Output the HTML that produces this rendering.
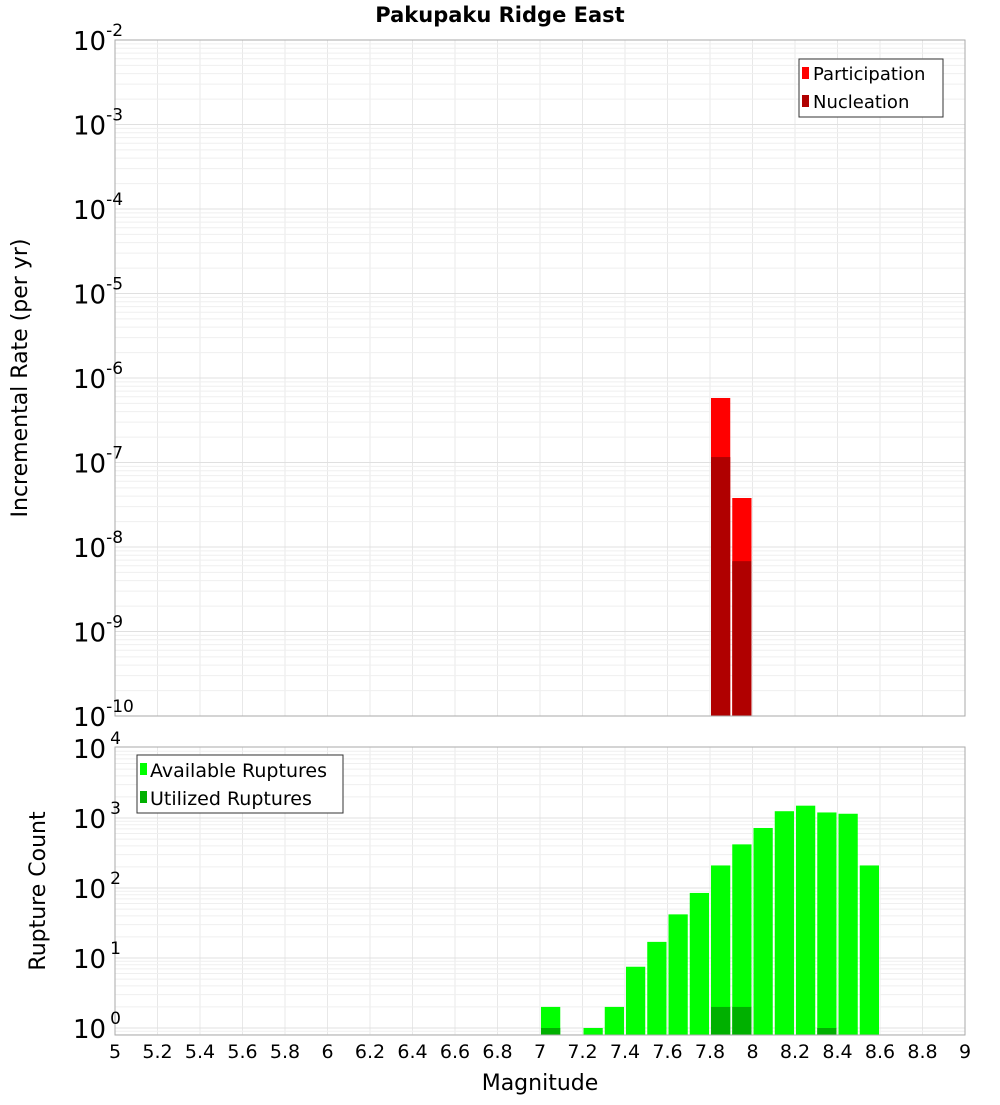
<!DOCTYPE html>
<html><head><meta charset="utf-8"><style>
body{margin:0;background:#fff;font-family:"Liberation Sans","DejaVu Sans",sans-serif}
</style></head><body>
<svg id="c" width="1000" height="1100" xmlns="http://www.w3.org/2000/svg" font-family="DejaVu Sans, Liberation Sans, sans-serif">
<text x="500" y="22" text-anchor="middle" font-size="21" font-weight="bold">Pakupaku Ridge East</text>
<g id="grid"></g>
<g id="bars"></g>
<g id="axes"></g>
</svg>
<script>
const binStarts=[7.8,7.9];
const participation=[5.8e-7,3.8e-8];
const nucleation=[1.16e-7,6.8e-9];
const countBins=[7.0,7.2,7.3,7.4,7.5,7.6,7.7,7.8,7.9,8.0,8.1,8.2,8.3,8.4,8.5];
const available=[2,1,2,7.5,17,42,85,210,420,720,1250,1500,1200,1150,210];
const utilized=[1,0,0,0,0,0,0,2,2,0,0,0,1,0,0];
const xTicks=[5,5.2,5.4,5.6,5.8,6,6.2,6.4,6.6,6.8,7,7.2,7.4,7.6,7.8,8,8.2,8.4,8.6,8.8,9];
const topExps=[-10,-9,-8,-7,-6,-5,-4,-3,-2];
const botExps=[0,1,2,3,4];

const NS="http://www.w3.org/2000/svg";
const L=115,R=965;
const X=m=>L+(m-5)/4*(R-L);
const T0=40,T1=716,Yt=v=>T1-(Math.log10(v)+10)/8*(T1-T0);
const B0=747,B1=1035,Yb=v=>1028-Math.log10(v)*70;
function el(tag,attrs,parent,txt){const e=document.createElementNS(NS,tag);for(const k in attrs)e.setAttribute(k,attrs[k]);if(txt!==undefined)e.textContent=txt;parent.appendChild(e);return e;}
const grid=document.getElementById('grid'),bars=document.getElementById('bars'),axes=document.getElementById('axes');
// grids
xTicks.forEach(t=>{
 [[T0,T1],[B0,B1]].forEach(([a,b])=>{const g=el('line',{x1:X(t),x2:X(t),y1:a,y2:b,stroke:'#e8e8e8'},grid);
 
 });
});
for(let e=-10;e<-2;e++)for(let k=1;k<10;k++){const y=Yt(k*Math.pow(10,e));const g=el('line',{x1:L,x2:R,y1:y,y2:y,stroke:k==1?'#e0e0e0':'#efefef'},grid);
 
 }
for(let e=-1;e<4;e++)for(let k=1;k<10;k++){const y=Yb(k*Math.pow(10,e));if(y<B0||y>B1)continue;const g=el('line',{x1:L,x2:R,y1:y,y2:y,stroke:k==1?'#e0e0e0':'#efefef'},grid);
 
 }
// top bars
binStarts.forEach((m,i)=>{
 const x=X(m)+1,w=X(m+0.1)-X(m)-2;
 let b=el('rect',{x:x,y:Yt(participation[i]),width:w,height:T1-Yt(participation[i]),fill:'#ff0000'},bars);
 
 
 b=el('rect',{x:x,y:Yt(nucleation[i]),width:w,height:T1-Yt(nucleation[i]),fill:'#b00000'},bars);
 
 
});
countBins.forEach((m,i)=>{
 const x=X(m)+1,w=X(m+0.1)-X(m)-2;
 let b=el('rect',{x:x,y:Yb(available[i]),width:w,height:B1-Yb(available[i]),fill:'#00ff00'},bars);
 
 
 if(utilized[i]>0){b=el('rect',{x:x,y:Yb(utilized[i]),width:w,height:B1-Yb(utilized[i]),fill:'#00b000'},bars);
 
 }
});
// frames
[[T0,T1],[B0,B1]].forEach(([a,b])=>{const f=el('rect',{x:L,y:a,width:R-L,height:b-a,fill:'none',stroke:'#aaa'},axes);
 
 });
// y labels
function expLabel(y,e,name){const t=el('text',{x:104,y:y+9,'text-anchor':'end','font-size':26},axes);
 
 
 const a=el('tspan',{},t,'10');const s=el('tspan',{dy:-14,'font-size':17},t,String(e));}
topExps.forEach(e=>{const y=Yt(Math.pow(10,e));const t=el('text',{x:73,y:y+10,'font-size':26},axes);
 
 
 el('tspan',{},t,'10');el('tspan',{dy:-14,'font-size':17},t,String(e));});
botExps.forEach(e=>{const y=Yb(Math.pow(10,e));const t=el('text',{x:73,y:y+10,'font-size':26},axes);
 
 
 el('tspan',{},t,'10');el('tspan',{dx:4,dy:-14,'font-size':17},t,String(e));});
xTicks.forEach(t=>{const s=el('text',{x:X(t),y:1058,'text-anchor':'middle','font-size':19},axes,String(t));
 
 });
</script>
<svg width="1000" height="1100" style="position:absolute;left:0;top:0" font-family="DejaVu Sans, Liberation Sans, sans-serif">
<text x="540" y="1090" text-anchor="middle" font-size="22">Magnitude</text>
<text transform="translate(27,378) rotate(-90)" text-anchor="middle" font-size="22">Incremental Rate (per yr)</text>
<text transform="translate(45,891) rotate(-90)" text-anchor="middle" font-size="22">Rupture Count</text>
<g>
<rect x="799" y="59" width="144" height="58" fill="#fff" stroke="#333"/>
<rect x="802" y="67" width="7" height="12" fill="#ff0000"/>
<text x="813" y="80" font-size="18">Participation</text>
<rect x="802" y="95" width="7" height="12" fill="#b00000"/>
<text x="813" y="108" font-size="18">Nucleation</text>
</g>
<g>
<rect x="137" y="755" width="206" height="58" fill="#fff" stroke="#333"/>
<rect x="140" y="763" width="7" height="12" fill="#00ff00"/>
<text x="150" y="777" font-size="19">Available Ruptures</text>
<rect x="140" y="791" width="7" height="12" fill="#00b000"/>
<text x="150" y="805" font-size="19">Utilized Ruptures</text>
</g>
</svg>
</body></html>
